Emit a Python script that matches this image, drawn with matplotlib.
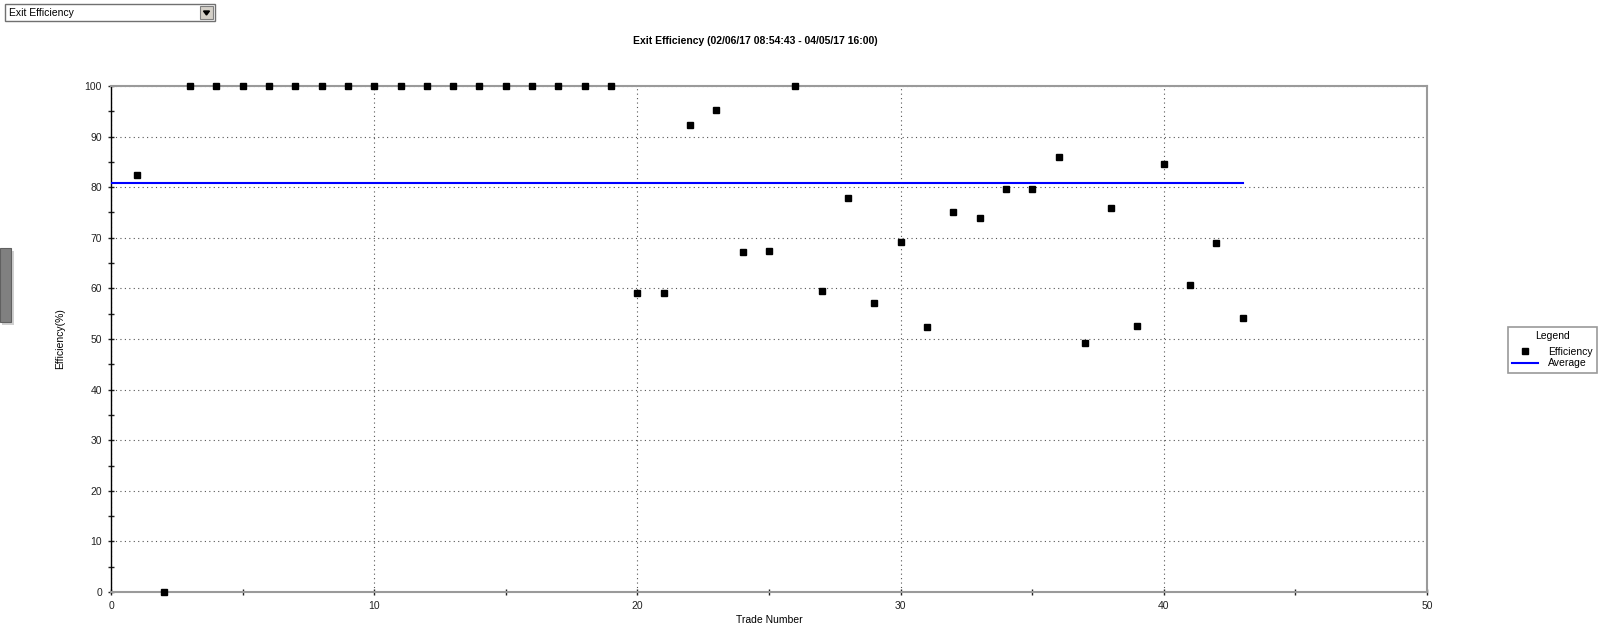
import matplotlib.pyplot as plt
from matplotlib.patches import Rectangle, Polygon
import numpy as np

#
# Data
trade_number = list(range(1, 44))
efficiency = [82.5, 0] + [100] * 17 + [
    59.0, 59.0, 92.3, 95.2, 67.2, 67.3, 100, 59.4, 77.8, 57.1,
    69.2, 52.4, 75.1, 74.0, 79.6, 79.6, 85.9, 49.3, 75.8, 52.6,
    84.6, 60.7, 69.0, 54.1]
average_span = [0, 43]
x_ticks = [0, 10, 20, 30, 40, 50]
y_ticks = [0, 10, 20, 30, 40, 50, 60, 70, 80, 90, 100]

title = 'Exit Efficiency (02/06/17 08:54:43 - 04/05/17 16:00)'
selector_text = 'Exit Efficiency'

avg = np.mean(efficiency)

plt.rcParams['font.family'] = ['Liberation Sans', 'DejaVu Sans']

fig = plt.figure(figsize=(16, 6.28), dpi=100)
ax = fig.add_axes([111 / 1600, 1 - 592 / 628, 1316 / 1600, 506 / 628])

#
# Average line and efficiency points
ax.plot(average_span, [avg, avg], color='#0000ff', lw=1.5, label='Average', zorder=3)
ax.plot(trade_number, efficiency, 's', color='black', ms=5, label='Efficiency',
        clip_on=False, zorder=4)

ax.set_xlim(0, 50)
ax.set_ylim(0, 100)
ax.set_xticks(x_ticks)
ax.set_xticks([5, 15, 25, 35, 45], minor=True)
ax.set_yticks(y_ticks)
ax.set_yticks(list(range(5, 100, 10)), minor=True)
ax.tick_params(which='both', direction='inout', length=5, width=1, labelsize=7.5,
               colors='#222222', pad=4)
ax.tick_params(which='minor', length=4)
ax.grid(True, which='major', color='#555555', lw=0.8, linestyle=(0, (1, 3)))

for side in ['top', 'right', 'bottom']:
    ax.spines[side].set_color('#9a9a9a')
    ax.spines[side].set_linewidth(1.5)
ax.spines['left'].set_color('black')
ax.spines['left'].set_linewidth(1)

ax.set_xlabel('Trade Number', fontsize=7.5, labelpad=3)
ax.set_ylabel('Efficiency(%)', fontsize=7.5, labelpad=14)

fig.text(755 / 1600, 1 - 41 / 628, title, fontsize=7.5, fontweight='bold',
         ha='center', va='center')

#
# Legend box on the right
handles, labels = ax.get_legend_handles_labels()
leg = fig.legend(handles[::-1], labels[::-1], title='Legend', loc='upper left',
                 bbox_to_anchor=(1503 / 1600, 1 - 322 / 628), fontsize=7.5,
                 title_fontsize=7.5, frameon=True, fancybox=False,
                 handlelength=2.5, handletextpad=0.9, borderpad=0.4,
                 labelspacing=0.15, markerfirst=True)
leg.get_frame().set_edgecolor('#808080')
leg.get_frame().set_linewidth(1.2)
leg._legend_box.sep = 4

#
# Drop-down selector top left
fig.patches.append(Rectangle((5 / 1600, 1 - 21 / 628), 210 / 1600, 17 / 628,
                             transform=fig.transFigure, facecolor='white',
                             edgecolor='#707070', lw=1))
fig.patches.append(Rectangle((200 / 1600, 1 - 19 / 628), 13 / 1600, 13 / 628,
                             transform=fig.transFigure, facecolor='#d4d0c8',
                             edgecolor='#808080', lw=0.8))
fig.patches.append(Polygon([[203.5 / 1600, 1 - 11 / 628], [209.5 / 1600, 1 - 11 / 628],
                            [206.5 / 1600, 1 - 15 / 628]],
                           transform=fig.transFigure, facecolor='black', edgecolor='black'))
fig.text(9 / 1600, 1 - 12.5 / 628, selector_text, fontsize=7.5, ha='left', va='center')

#
# Side tab on the left edge
fig.patches.append(Rectangle((2 / 1600, 1 - 325 / 628), 12 / 1600, 74 / 628,
                             transform=fig.transFigure, facecolor='#d0d0d0',
                             edgecolor='none'))
fig.patches.append(Rectangle((0, 1 - 322 / 628), 11 / 1600, 74 / 628,
                             transform=fig.transFigure, facecolor='#808080',
                             edgecolor='#606060', lw=0.8))

fig.savefig('out.png', dpi=100)
